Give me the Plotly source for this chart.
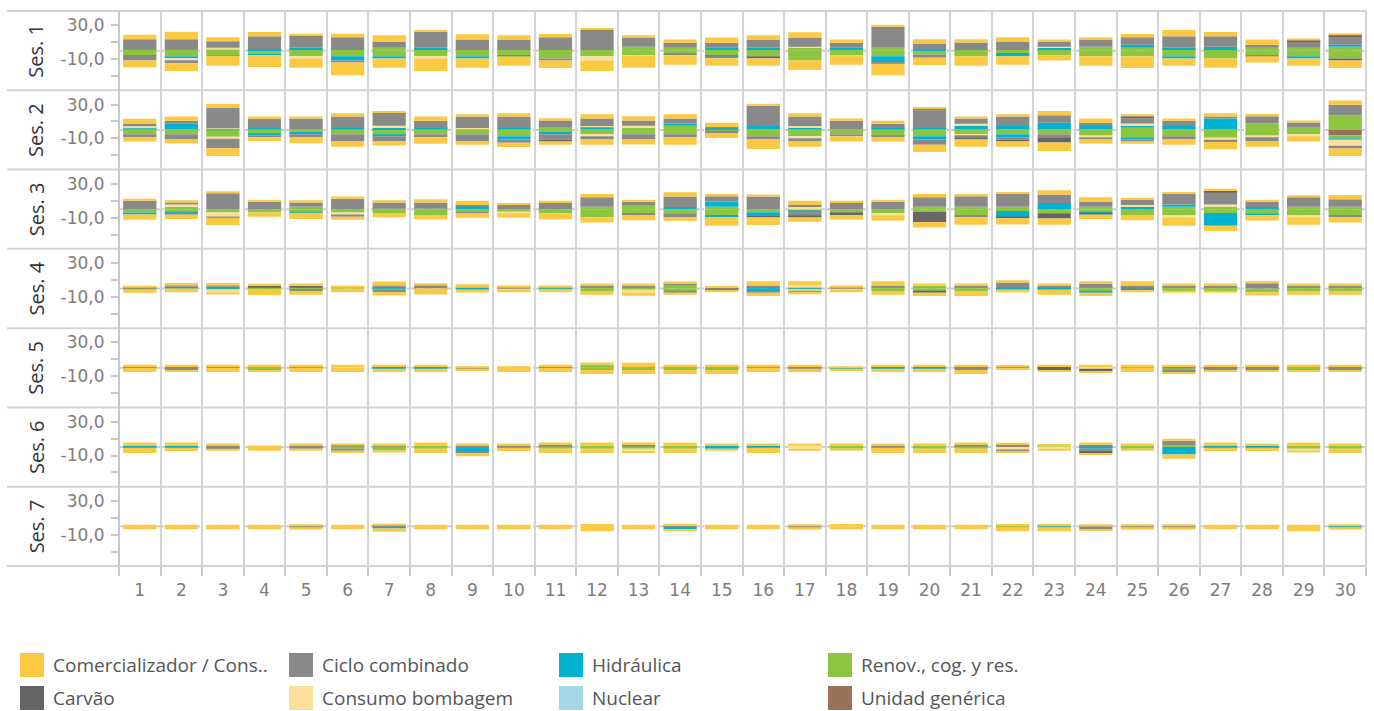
import plotly.graph_objects as go
from plotly.subplots import make_subplots

# ---------------- data ----------------
DAYS = list(range(1, 31))
SESSIONS = ["Ses. 1", "Ses. 2", "Ses. 3", "Ses. 4", "Ses. 5", "Ses. 6", "Ses. 7"]
Y_TICK_VALUES = [-10, 30]
Y_TICK_TEXT = ["-10,0", "30,0"]

CAT_COM = "Comercializador / Cons.."
CAT_CAR = "Carvão"
CAT_CIC = "Ciclo combinado"
CAT_BOM = "Consumo bombagem"
CAT_HID = "Hidráulica"
CAT_NUC = "Nuclear"
CAT_REN = "Renov., cog. y res."
CAT_UNI = "Unidad genérica"

# Comercializador / Consumidor (one list of 30 days per session)
COM_POS = [
    [5.4, 8.8, 5, 5, 2.9, 4.2, 7.5, 2.5, 6.2, 5, 3.8, 2.5, 2.5, 3.8, 6.2, 5, 6.2, 3.8, 2.5, 5, 3.8, 5, 2.5, 2.5, 3.8, 7.5, 5, 6.2, 2.5, 2.5],
    [6.2, 5, 5, 2.5, 2.5, 3.8, 2.5, 5, 2.5, 3.8, 2.5, 5, 5, 5, 5, 2.5, 3.8, 2.5, 3.8, 2.5, 2.5, 2.5, 5, 5, 2.5, 2.5, 3.8, 2.5, 2.5, 5],
    [2.5, 2.5, 2.5, 2.5, 2.5, 2.5, 2.5, 3.8, 5, 2.5, 2.5, 3.8, 2.5, 5, 2.5, 2.5, 5, 2.5, 2.5, 3.8, 2.5, 2.5, 5, 5, 2.5, 2.5, 2.5, 2.5, 2.5, 5],
    [2.5, 3.3, 3.3, 1.2, 2.5, 2.5, 5, 2.5, 4, 2.5, 2.5, 2.5, 2.5, 2.5, 2.5, 5, 5, 2.5, 5, 2.5, 2.5, 2.5, 2.5, 2.5, 5, 2.5, 2.5, 2.5, 2.5, 2.5],
    [2.5, 2.5, 2.5, 2.5, 2.5, 2.5, 2.5, 2.5, 1, 1, 2.5, 2.5, 5, 2.5, 2.5, 2.5, 2.5, 1, 2.5, 2.5, 2.5, 2.5, 2.5, 2.5, 2.5, 2.5, 2.5, 2.5, 2.5, 2.5],
    [3.8, 3.8, 2.5, 1.7, 2.5, 1.2, 2.5, 3.8, 2.5, 2.5, 2.5, 3.8, 2.5, 3.8, 2.5, 2.5, 2.5, 2.5, 2.5, 2.5, 2.5, 2.5, 2.5, 2.5, 2.5, 2.5, 3.8, 2.5, 3.8, 2.5],
    [1.7, 1.7, 1.7, 1.7, 2.5, 1.7, 1.2, 1.7, 1.7, 1.7, 1.7, 2.9, 1.7, 2.5, 1.7, 1.7, 2.5, 2.9, 1.7, 1.7, 1.7, 2.9, 2.9, 2.5, 2.5, 2.5, 1.7, 1.7, 1.7, 2.5],
]
COM_NEG = [
    [-8.3, -9.2, -11.7, -14.2, -11.2, -15, -11.2, -15, -11.2, -11.2, -8.8, -12.5, -14, -11.2, -8.8, -8.8, -11.2, -11.2, -13.8, -8.8, -11.2, -10, -6.2, -11.2, -13.8, -8.8, -11.2, -7.5, -8.8, -8.8],
    [-5, -5, -9.2, -4.5, -7, -6.2, -5, -7.5, -3.8, -5, -3.8, -6.2, -6.2, -8.8, -6.2, -11.2, -6.2, -6.2, -5, -8.8, -8.8, -6.2, -10, -5, -2.5, -6.2, -8.8, -6.2, -6.2, -8.8],
    [-6.2, -5, -8.8, -5, -7.5, -3.8, -5, -5, -5, -5, -7.5, -6.2, -6.2, -3.8, -10, -8.8, -5, -5, -6.2, -6.2, -8.8, -7.5, -7.5, -5, -6.2, -10, -6.2, -6.2, -8.8, -6.2],
    [-3.8, -4.5, -2.5, -7, -4.5, -4.5, -3.8, -7, -3.3, -3.3, -3.3, -4.5, -3.8, -2.5, -2, -3.8, -2, -3.3, -4.5, -3.8, -5.8, -3.3, -5.8, -3.8, -2, -2, -2, -3.8, -4.5, -4.5],
    [-5, -2.5, -5, -2.5, -5, -5, -3.8, -3.8, -2.5, -5, -5, -5, -5, -5, -5, -5, -3.8, -2.5, -3.8, -3.8, -5, -2.5, -2.5, -2.5, -5, -2.5, -2.5, -2.5, -2.5, -2.5],
    [-6.2, -3.8, -2.5, -4.5, -2.5, -2.5, -2.5, -5, -3.8, -3.8, -5, -5, -2.5, -5, -2.5, -6.2, -2.5, -2.5, -6.2, -5, -5, -2.5, -2.5, -2.5, -2.5, -5, -3.8, -3.8, -1.2, -5],
    [-3.3, -3.3, -3.3, -3.3, -2.5, -3.3, -3.8, -3.3, -3.3, -3.3, -3.3, -5.8, -3.3, -2.5, -3.3, -3.3, -2.5, -3.3, -3.3, -3.3, -3.3, -4.5, -4.5, -2.5, -2.5, -2.5, -3.3, -3.3, -5.8, -2.5],
]

# Ciclo combinado
CIC_POS = [
    [12.5, 12.5, 7.5, 15.4, 12.9, 15, 7.5, 18.8, 12.5, 12.5, 15, 22.5, 11.2, 6.2, 6.2, 10, 11.2, 6.2, 25, 7, 8.8, 10, 6.2, 8.8, 8.8, 13.8, 12.5, 3.8, 7.5, 10],
    [2.5, 3.8, 24, 11.2, 12.5, 13.8, 15, 8.8, 13.8, 13.8, 8.8, 8.8, 6.2, 6.2, 1, 23.8, 11.2, 10, 5, 21.2, 6.2, 11.2, 8.8, 3.8, 6.2, 6.2, 2.5, 8.8, 6.2, 12.5],
    [10, 2.5, 18.8, 8.8, 5, 12.5, 7.5, 7.5, 1.2, 5, 7.5, 11.2, 3.8, 12.5, 6.2, 15, 2.5, 7.5, 8.8, 11.2, 12.5, 15, 10, 6.2, 6.2, 12.5, 15, 6.2, 11.2, 8.8],
    [0.8, 1.2, 1.2, 0, 0, 0, 1.2, 3.8, 0, 1, 0, 2.5, 2.5, 2.5, 0.5, 2.5, 0, 1, 2.5, 0, 2.5, 6.2, 2.5, 5, 2.5, 2.5, 2.5, 6.2, 2.5, 2.5],
    [0, 1, 0, 0, 1, 0, 0, 0, 0, 0, 0, 0, 0, 0, 0, 1, 1, 0, 0, 0, 1, 0.8, 0, 0, 0, 1, 1, 1, 0, 1],
    [0, 0, 1.7, 0, 1.7, 1.2, 0.8, 0, 1.7, 1.7, 1.2, 0, 1.2, 0, 0, 0, 0, 0, 1.7, 0, 1.2, 2.5, 0, 1.2, 0, 5, 0, 0, 0, 0],
    [0, 0, 0, 0, 0, 0, 1.2, 0, 0, 0, 0, 0, 0, 0.5, 0, 0, 0, 0, 0, 0, 0, 0, 0, 0, 0, 0, 0, 0, 0, 0],
]
CIC_NEG = [
    [-5.8, -3.3, -0.8, 0, 0, -2.5, 0, 0, 0, 0, -2.5, 0, 0, -2.5, -2.5, 0, 0, 0, -1.2, -3.8, 0, 0, 0, 0, 0, 0, 0, -1.2, 0, 0],
    [-3.8, -6.2, -11.2, -2.5, -3.8, -8.8, -6.2, -3.8, -8.8, -3.8, -6.2, -3.8, -6.2, -3.8, -2.5, -3.8, -3.8, -2.5, -1.2, -6.2, -1.2, -2.5, -3.8, -2.5, -2.5, -3.8, -2.5, -5, 0, -3.3],
    [0, -2.5, -1.2, 0, 0, -2.5, 0, 0, -2.5, 0, 0, 0, -2.5, -5, 0, 0, -5, 0, 0, 0, -2.5, 0, 0, 0, 0, 0, 0, 0, 0, -2.5],
    [0, 0, 0, 0, -2.5, 0, -3.3, 0, 0, 0, 0, 0, 0, -2, 0, -2, -1.2, 0, 0, 0, 0, 0, 0, 0, 0, 0, 0, 0, 0, 0],
    [0, -2.5, 0, 0, 0, 0, 0, 0, -1.2, 0, 0, 0, 0, 0, 0, 0, -1.2, 0, 0, 0, -2.5, 0, 0, 0, 0, -2.5, -2.5, -2.5, 0, -2.5],
    [0, 0, -0.8, 0, -2, -2.5, 0, 0, -0.8, -0.8, 0, 0, 0, 0, 0, 0, 0, 0, -0.8, 0, 0, -0.8, 0, -2.5, 0, 0, 0, 0, 0, 0],
    [0, 0, 0, 0, -1.2, 0, 0, 0, 0, 0, 0, 0, 0, 0, 0, 0, -1.2, 0, 0, 0, 0, 0, 0, -3, -1.2, -1.2, 0, 0, 0, 0],
]

# Renov., cog. y res.
REN_POS = [
    [1, 1, 1, 0, 0.8, 0.8, 3.3, 0.8, 0.8, 0.8, 0.8, 0.8, 4.5, 3.3, 0.8, 0.8, 3.3, 0.8, 3.3, 0, 0.8, 0.8, 0.8, 4.5, 3.3, 0.8, 0.8, 3.3, 3.3, 4.5],
    [0.8, 1, 0, 1, 1, 1, 0, 1, 1, 1, 2.5, 1, 2.5, 5, 0, 1, 1, 1, 1, 1, 1, 1, 1, 1, 2.5, 1, 1, 7.5, 2.5, 17.5],
    [0, 3, 0, 0, 3, 0, 0.5, 0.5, 0, 0, 0, 3, 5, 0, 3, 0, 0, 0, 0, 3, 3, 3, 0, 3, 0, 3, 3, 0, 3, 3],
    [0, 0, 0, 0.8, 0.8, 0.8, 0, 0, 0, 0, 0, 1, 1, 3.3, 0, 0, 0, 0, 1, 3.3, 1, 0, 0, 1, 0, 1, 1, 0, 1, 1],
    [0, 0, 0, 1, 0, 0, 0, 0, 0, 0, 0, 3.8, 1, 1, 1, 0, 0, 0, 0, 0, 0, 0, 0, 0, 1, 0, 0, 0, 1, 0],
    [0, 0, 0, 0, 0, 1.7, 0.8, 1.7, 0, 0, 1.7, 1.7, 1.7, 1.7, 0, 0, 0, 1.7, 0, 1.7, 1.7, 0, 1.2, 0, 1.7, 2.5, 0, 0, 1.7, 1.7],
    [0] * 30,
]
REN_NEG = [
    [-5.4, -6.5, -5.4, -4.5, -6.7, -6.7, -6.7, -6.7, -6.7, -5.4, -9.2, -6.7, -5.4, -2.9, -5.4, -6.7, -11.7, -5.4, -6.7, -4.5, -6.7, -2.9, -5.4, -6.7, -6.7, -6.7, -9.2, -5.4, -6.7, -9.2],
    [-5, -5, -8, -5, -2.5, -5, -6.2, -5, -5, -7.5, -2.5, -5, -5, -5, -1, -7.5, -7.5, -5, -7.5, -7.5, -5, -5, -5, -7.5, -8.8, -7.5, -9.2, -7.5, -5, -3.8],
    [-3.8, -3, -3.8, -3.8, -3, -3.8, -4.5, -7, -2.5, -3.5, -4.8, -9.5, -4.5, -4.8, -7, -3.5, -2.5, -3.5, -4.8, -3, -7, -2, -4.8, -3, -7, -7, -4.5, -4.8, -7, -7],
    [-1.2, 0, -1.2, -0.8, -0.5, 0, -1.2, 0, 0, 0, -1.2, -3, -1.5, -3, 0, 0, -1.2, 0, -3, -3, -3, 0, 0, -3, 0, -3, -3, -4.5, -3, -3],
    [0, 0, 0, -2.5, 0, 0, 0, 0, 0, 0, 0, -2.5, -2.5, -2.5, -2.5, 0, 0, 0, 0, 0, 0, 0, 0, 0, 0, -2.5, 0, 0, -2.5, 0],
    [0, 0, 0, 0, 0, -2, -4, -2, 0, 0, -2, -2, -2, -2, 0, 0, 0, -2, 0, -2, -2, 0, 0, 0, -2, 0, 0, 0, -2, -2],
    [0, 0, 0, 0, 0, 0, 0, 0, 0, 0, 0, 0, 0, 0, 0, 0, 0, 0, 0, 0, 0, -1.2, 0, 0, 0, 0, 0, 0, 0, 0],
]

# Sparse categories: {day: value} per session
CAR_POS = [{5: 0.8, 12: 1, 29: 1.2, 30: 1.2}, {20: 1.2, 25: 2.5}, {27: 1.2}, {4: 2.5, 5: 2.5}, {23: 1}, {}, {}]
CAR_NEG = [{16: -2.5, 30: -2.5},
           {11: -2.5, 21: -2.5, 22: -2.5, 23: -6.2},
           {16: -2.5, 17: -1.2, 18: -3.8, 20: -12.5, 22: -1.2, 23: -6.2, 24: -2.5},
           {15: -2.5, 20: -2, 25: -2.5},
           {23: -2.5, 24: -2.5},
           {24: -2.5},
           {}]
BOM_POS = [{3: 2.5, 17: 1.2, 23: 1.2},
           {1: 2.5, 3: 1.2, 7: 2.5, 9: 1.2, 12: 1.2, 13: 2.5, 17: 2.5, 21: 2.5, 25: 2.5},
           {2: 2.5, 17: 2.5, 25: 2.5, 27: 2.5},
           {17: 2.5},
           {6: 1, 24: 1},
           {17: 1.7},
           {}]
BOM_NEG = [{2: -2.5, 5: -2.5, 8: -2.5, 12: -5, 13: -0.8},
           {3: -2.5, 12: -2.5, 17: -2.5, 21: -2.5, 24: -1.2, 27: -2.5, 28: -1.2, 29: -2.5, 30: -7.5},
           {3: -5, 6: -2.5, 10: -1.2, 19: -2.5, 26: -2.5, 29: -2.5},
           {3: -3.3, 10: -1.2, 13: -3.3, 17: -2.5, 18: -1.2},
           {24: -1.2},
           {13: -2.5, 17: -2, 22: -3.8, 23: -2, 29: -2.5},
           {}]
HID_POS = [{4: 1.7, 5: 2.5, 8: 2.5, 15: 2.5, 16: 2.5, 18: 2.5, 20: 1.5, 23: 2.5, 25: 3.8, 26: 2.5, 27: 3.8, 30: 2.5},
           {1: 1.2, 2: 6.2, 3: 0.8, 4: 1.2, 6: 1.2, 7: 2.5, 8: 1.2, 10: 1.2, 12: 2.5, 14: 2.5, 15: 2.5, 16: 3.8,
            17: 1.2, 19: 1.2, 20: 1.2, 21: 3.8, 22: 3.8, 23: 7.5, 24: 3.8, 25: 2.5, 26: 3.8, 27: 12.5},
           {9: 3.8, 14: 2.5, 15: 6.2, 23: 7.5, 25: 2.5, 26: 2.5, 28: 2.5},
           {2: 2, 3: 2, 7: 2, 9: 1, 11: 1, 16: 1, 17: 1, 22: 1, 23: 1, 25: 1},
           {1: 1, 3: 1, 7: 1, 8: 1, 11: 1, 19: 1, 20: 1},
           {1: 1.7, 2: 1.7, 15: 1.7, 16: 1.7, 24: 1.7, 27: 1.7, 28: 1.7},
           {}]
HID_NEG = [{1: -0.5, 2: -2.5, 4: -0.8, 6: -5, 7: -2.5, 9: -2.5, 10: -1.2, 15: -1.2, 19: -7.5, 22: -3.8, 26: -2.5, 29: -2.5},
           {4: -1.2, 5: -2.5, 7: -1.2, 10: -3.8, 11: -2.5, 20: -3.8, 22: -3.8, 25: -2.5, 30: -1.2},
           {1: -2.5, 2: -1.2, 5: -1.2, 15: -2.5, 16: -3.8, 17: -1.2, 22: -7.5, 24: -1.2, 27: -15, 28: -2.5},
           {9: -1.5, 16: -3, 22: -1.5, 23: -1.5, 24: -2},
           {7: -1.2, 8: -1.2, 18: -1.2, 19: -1.2, 20: -1.2},
           {1: -0.8, 2: -0.8, 3: -1.2, 9: -6.2, 15: -2, 16: -0.8, 24: -2, 26: -8.8, 27: -0.8, 28: -0.8},
           {7: -2.5, 14: -3.3, 23: -1.2, 30: -1.2}]
NUC_POS = [{}, {}, {}, {}, {}, {}, {}]
NUC_NEG = [{}, {}, {}, {}, {}, {}, {}]
UNI_POS = [{}, {}, {}, {}, {}, {}, {}]
UNI_NEG = [{}, {30: -6.2}, {}, {}, {}, {}, {}]


def dense(sparse):
    return [[s.get(d, 0) for d in DAYS] for s in sparse]


COLORS = {
    CAT_COM: "#FCC943",
    CAT_CAR: "#666666",
    CAT_CIC: "#898989",
    CAT_BOM: "#FADF99",
    CAT_HID: "#00B2CF",
    CAT_NUC: "#A5D8E6",
    CAT_REN: "#8CC53F",
    CAT_UNI: "#9A7159",
}

# stacking order: first = closest to zero
STACK = [
    (CAT_UNI, dense(UNI_POS), dense(UNI_NEG)),
    (CAT_REN, REN_POS, REN_NEG),
    (CAT_NUC, dense(NUC_POS), dense(NUC_NEG)),
    (CAT_HID, dense(HID_POS), dense(HID_NEG)),
    (CAT_BOM, dense(BOM_POS), dense(BOM_NEG)),
    (CAT_CIC, CIC_POS, CIC_NEG),
    (CAT_CAR, dense(CAR_POS), dense(CAR_NEG)),
    (CAT_COM, COM_POS, COM_NEG),
]

LEGEND_ROWS = [[CAT_COM, CAT_CIC, CAT_HID, CAT_REN],
               [CAT_CAR, CAT_BOM, CAT_NUC, CAT_UNI]]

# ---------------- figure ----------------
W, H = 1374, 711
L, R, T, B = 119, 8, 11, 145
PW, PH = W - L - R, H - T - B
NROWS = len(SESSIONS)


def px_x(px):
    return (px - L) / PW


def px_y(py):
    return (H - B - py) / PH


FONT = "Open Sans"
TICK_FONT = "DejaVu Sans"
GRID = "#d4d4d4"

fig = make_subplots(rows=NROWS, cols=1, shared_xaxes=True, vertical_spacing=0)

for r in range(NROWS):
    for cat, pos, neg in STACK:
        for vals in (pos[r], neg[r]):
            fig.add_trace(go.Bar(x=DAYS, y=vals, marker=dict(color=COLORS[cat], line=dict(width=0)),
                                 name=cat, showlegend=False, hoverinfo="x+y+name"), row=r + 1, col=1)

fig.update_layout(
    width=W, height=H, margin=dict(l=L, r=R, t=T, b=B),
    barmode="relative", bargap=0.2,
    plot_bgcolor="white", paper_bgcolor="white",
    font=dict(family=FONT, color="#777777"),
    separators=",.",
)

for r in range(1, NROWS + 1):
    fig.update_yaxes(row=r, col=1, range=[-47, 47], tickvals=Y_TICK_VALUES, ticktext=Y_TICK_TEXT,
                     ticks="outside", ticklen=7, tickcolor="#c8c8c8", tickwidth=1.5,
                     tickfont=dict(size=17, color="#7d7d7d", family=TICK_FONT),
                     minor=dict(tick0=-10, dtick=20, ticks="outside", ticklen=7, tickcolor="#c8c8c8", tickwidth=1.5),
                     showgrid=False, zeroline=False, showline=False, fixedrange=True, ticklabelstandoff=3)
    fig.update_xaxes(row=r, col=1, range=[0.5, 30.5], tickvals=DAYS, showgrid=False, zeroline=False,
                     showline=False, showticklabels=(r == NROWS),
                     ticks="outside" if r == NROWS else "", ticklen=9, tickcolor="rgba(0,0,0,0)",
                     tickfont=dict(size=17, color="#7d7d7d", family=TICK_FONT),
                     minor=dict(tick0=0.5, dtick=1, showgrid=True, gridcolor=GRID, gridwidth=2,
                                ticks="outside" if r == NROWS else "", ticklen=9, tickcolor="#c8c8c8",
                                tickwidth=1.5))

shapes = []
# dashed zero lines
for r in range(1, NROWS + 1):
    yref = "y" if r == 1 else f"y{r}"
    shapes.append(dict(type="line", xref="paper", yref=yref, x0=0, x1=1, y0=0, y1=0,
                       line=dict(color="#cfcfcf", width=2, dash="dash"), layer="below"))
# row separators (extending into the header area)
for k in range(NROWS + 1):
    yy = k / NROWS
    shapes.append(dict(type="line", xref="paper", yref="paper", x0=px_x(7), x1=1, y0=yy, y1=yy,
                       line=dict(color=GRID, width=2), layer="above"))
# left axis line and right border
shapes.append(dict(type="line", xref="paper", yref="paper", x0=0, x1=0, y0=0, y1=1,
                   line=dict(color="#c8c8c8", width=2), layer="above"))
shapes.append(dict(type="line", xref="paper", yref="paper", x0=1, x1=1, y0=0, y1=1,
                   line=dict(color=GRID, width=2), layer="above"))

annotations = []
for i, s in enumerate(SESSIONS):
    annotations.append(dict(text=s, xref="paper", yref="paper", x=px_x(36), y=1 - (i + 0.5) / NROWS,
                            textangle=-90, showarrow=False, xanchor="center", yanchor="middle",
                            font=dict(size=20, color="#333333", family=FONT)))

# manual legend
LEG_X = [20, 289, 559, 828]
LEG_Y = [665, 698]
for ri, row in enumerate(LEGEND_ROWS):
    for ci, cat in enumerate(row):
        x0, yc = LEG_X[ci], LEG_Y[ri]
        shapes.append(dict(type="rect", xref="paper", yref="paper", x0=px_x(x0), x1=px_x(x0 + 24),
                           y0=px_y(yc + 12), y1=px_y(yc - 12), fillcolor=COLORS[cat], line=dict(width=0)))
        annotations.append(dict(text=cat, xref="paper", yref="paper", x=px_x(x0 + 31), y=px_y(yc),
                                xanchor="left", yanchor="middle", showarrow=False,
                                font=dict(size=19, color="#555555", family=FONT)))

fig.update_layout(shapes=shapes, annotations=annotations)
fig.write_html("out.html", config={"displayModeBar": False},
               post_script="document.body.style.margin='0px';document.body.style.overflow='hidden';")
